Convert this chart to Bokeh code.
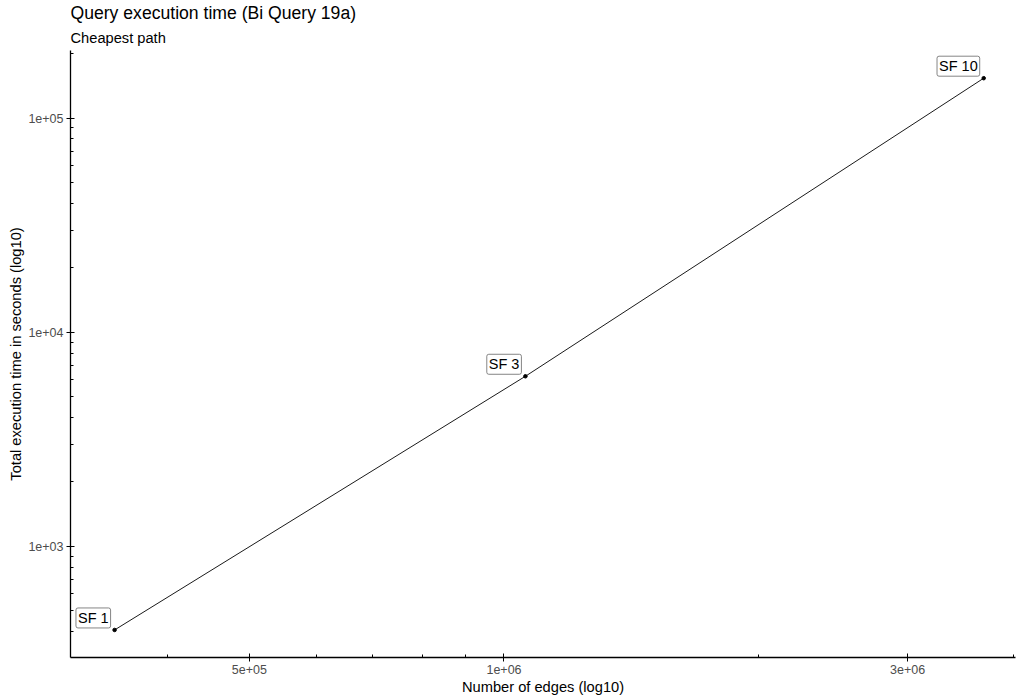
from bokeh.plotting import figure
from bokeh.models import (Range1d, FixedTicker, CustomJSTickFormatter,
                          ColumnDataSource, Title)
from bokeh.core.properties import value
from bokeh.embed import file_html
from bokeh.resources import INLINE

# Scale factors of the benchmark run: graph size vs. total execution time
scale_factor_labels = ["SF 1", "SF 3", "SF 10"]
num_edges = [346500, 1060000, 3690000]
exec_seconds = [407, 6230, 153700]

# Axis breaks
x_major_ticks = [5e5, 1e6, 3e6]
y_major_ticks = [1e3, 1e4, 1e5]

FONT = "Liberation Sans"


def log_minor_ticks(lo_exp, hi_exp):
    return [k * 10.0 ** e for e in range(lo_exp, hi_exp + 1) for k in range(1, 10)]


source = ColumnDataSource(data=dict(edges=num_edges, seconds=exec_seconds,
                                    label=scale_factor_labels))

p = figure(width=1017, height=697,
           x_axis_type="log", y_axis_type="log",
           x_range=Range1d(10 ** 5.4876, 10 ** 6.6046),
           y_range=Range1d(10 ** 2.481, 10 ** 5.316),
           output_backend="svg", toolbar_location=None, title=None,
           min_border_left=70, min_border_right=2,
           min_border_top=15, min_border_bottom=36,
           background_fill_color="white", border_fill_color="white")

p.outline_line_color = None
p.xgrid.visible = False
p.ygrid.visible = False

# Titles: the first one added sits closest to the plot area
p.add_layout(Title(text="Cheapest path", text_font=FONT, text_font_size="14.67px",
                   text_font_style="normal", text_color="black", align="left",
                   standoff=10), "above")
p.add_layout(Title(text="Query execution time (Bi Query 19a)", text_font=FONT,
                   text_font_size="17.6px", text_font_style="normal",
                   text_color="black", align="left", standoff=0), "above")

fmt = CustomJSTickFormatter(code="""
    return tick.toExponential(0).replace(/e([+-])(\\d)$/, 'e$1' + '0$2');
""")

p.xaxis.ticker = FixedTicker(ticks=x_major_ticks, minor_ticks=log_minor_ticks(5, 6))
p.yaxis.ticker = FixedTicker(ticks=y_major_ticks, minor_ticks=log_minor_ticks(2, 5))
p.xaxis.formatter = fmt
p.yaxis.formatter = fmt

p.xaxis.axis_label = "Number of edges (log10)"
p.yaxis.axis_label = "Total execution time in seconds (log10)"

for ax in (p.xaxis, p.yaxis):
    ax.axis_line_color = "black"
    ax.axis_line_width = 1.3
    ax.major_tick_line_color = "black"
    ax.major_tick_line_width = 1
    ax.major_tick_in = 4
    ax.major_tick_out = 4
    ax.minor_tick_line_color = "black"
    ax.minor_tick_line_width = 1
    ax.minor_tick_in = 3
    ax.minor_tick_out = 0
    ax.major_label_text_font = FONT
    ax.major_label_text_font_size = "12.5px"
    ax.major_label_text_color = "#4D4D4D"
    ax.major_label_standoff = 3
    ax.axis_label_text_font = FONT
    ax.axis_label_text_font_size = "14.67px"
    ax.axis_label_text_font_style = "normal"
    ax.axis_label_text_color = "black"

p.xaxis.axis_label_standoff = 2
p.yaxis.axis_label_standoff = 1

p.line("edges", "seconds", source=source, line_color="#1a1a1a", line_width=1)
p.scatter("edges", "seconds", source=source, size=3.5, color="black")

# Boxed point labels
p.text("edges", "seconds", text="label", source=source,
       x_offset=-4, y_offset=-2,
       text_align="right", text_baseline="bottom",
       text_font=value(FONT), text_font_size="14.5px", text_color="black",
       background_fill_color="white",
       border_line_color="#666666", border_line_width=0.8,
       padding=2, border_radius=2)

open("out.html", "w").write(file_html(p, INLINE))
